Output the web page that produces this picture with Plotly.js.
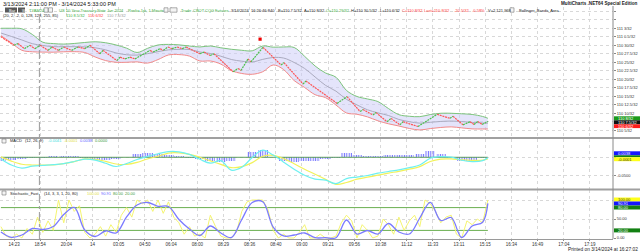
<!DOCTYPE html>
<html><head><meta charset="utf-8">
<script src="https://cdn.plot.ly/plotly-3.0.1.min.js"></script>
<style>html,body{margin:0;padding:0;background:#fff;}#chart{width:640px;height:252px;}</style>
</head><body><div id="chart"></div>
<script>
// ---------- DATA ----------
const tickBars = [5,15,25,35,45,55,65,75,85,95,105,115,125,135,145,155,165,175,185,195,205,215,225];
const tickLabels = ["14:23","18:54","20:04","14","03:05","04:50","06:04","08:00","08:29","08:36","08:40","09:00","09:21","09:56","10:38","11:12","11:33","13:11","15:15","16:34","16:49","17:04","17:19"];

// price in 32nds above 110
const priceTickVals = [5,7.5,10,12.5,15,17.5,20,22.5,25,27.5,30,32.5,35,37.5,40];
const priceTickText = ["110 5/32","","110 10/32","110 12.5/32","110 15/32","110 17.5/32","110 20/32","110 22.5/32","110 25/32","110 27.5/32","110 30/32","111 0.5/32","111 3/32","",""];

// renko turning points (bar, price)
const renkoBars = [0,5,6.5,9,11,13,15,18,19.5,22,24,27,29.4,32,34,37.8,39,44.3,45.5,47.4,49.3,51.2,57,58.1,60.8,62,63.8,65.3,67.3,69.2,70.7,76,77.6,79.9,81.4,88.7,90.6,91.7,94.4,95.5,100.1,107,108.1,115.4,116.5,128.4,132.2,137.2,138.3,142.1,143.3,147.5,149,152.4,153.6,159.3,166.6,171.5,172.7,176.5,179.2,180.7,182.2,183.8,186];
const renkoPrices = [32.5,30,30.5,29,30,29,30,28.5,29.5,28.5,29.5,28.5,29.5,29,30,27.5,28.5,25.5,26.5,26,26.5,26,28.5,28,29,28.5,29.5,29,29.5,29,29.5,27.5,28,27,27.5,22.2,23.2,22.6,26,25.1,29.4,24.2,24.9,18.6,19.5,12.9,14.9,10.5,11.1,9.5,10.2,7.5,8.5,6.6,7.5,6.1,9.7,8.5,9.1,6.6,7.5,6.7,7.6,6.7,7.6];
const signalBars = [99];
const signalPrices = [31.8];

const sampleBars = [0,4,8,12,16,20,24,28,32,36,40,44,48,52,56,60,64,68,72,76,80,84,88,92,96,100,104,108,112,116,120,124,128,132,136,140,144,148,152,156,160,164,168,172,176,180,184,186];
const bbUpper = [35.0,35.0,34.85,33.18,30.91,30.5,30.35,30.53,30.82,31.03,30.74,30.09,29.15,27.88,29.09,30.09,30.26,30.12,29.79,29.5,29.79,29.26,28.82,28.53,28.38,29.79,29.44,29.5,29.35,26.76,23.91,21.85,20.59,16.71,14.94,14.21,13.44,11.41,9.59,9.12,9.0,9.62,10.0,10.0,9.85,9.65,9.06,8.53];
const bbLower = [32.85,30.71,28.53,28.09,28.0,27.97,28.09,28.12,27.88,26.56,25.5,25.0,25.0,25.12,24.76,25.79,27.15,27.26,26.82,25.38,25.38,24.47,22.56,21.71,21.47,22.21,24.21,22.85,19.62,17.59,15.47,14.59,12.41,10.09,9.71,8.94,7.79,6.91,6.26,5.53,5.09,5.5,5.82,6.0,5.71,5.41,5.38,5.38];
const bbMid = [33.6,32.6,31.56,30.47,29.94,29.59,29.59,29.59,29.53,29.26,28.65,27.74,27.21,27.12,27.53,28.12,28.65,28.79,28.76,28.03,27.59,26.79,25.82,25.32,25.09,25.85,26.41,26.24,24.94,23.18,20.68,18.21,16.5,14.09,12.47,11.03,10.12,9.35,8.18,7.53,7.09,7.35,7.59,7.71,7.56,7.32,7.15,7.06];

const macdLine = [-0.0043,-0.0206,-0.0289,-0.0238,-0.0217,-0.0198,-0.0168,-0.0112,-0.0048,-0.0075,-0.016,-0.0246,-0.0166,-0.0059,0.0024,0.0094,0.0152,0.0147,0.0078,-0.0053,-0.0158,-0.0091,-0.0345,-0.0267,-0.0005,0.019,0.0059,-0.0131,-0.0318,-0.0479,-0.0586,-0.0612,-0.0706,-0.057,-0.0529,-0.0487,-0.0425,-0.038,-0.0337,-0.0278,-0.0206,-0.0027,0.0016,0.0003,-0.008,-0.0115,-0.0091,-0.0013];
const macdAvg = [0.0011,-0.0102,-0.0187,-0.0206,-0.0206,-0.0201,-0.0171,-0.0115,-0.0043,-0.0056,-0.011,-0.0179,-0.019,-0.0136,-0.0045,0.0027,0.0112,0.0118,0.0078,0,-0.0096,-0.019,-0.0278,-0.0249,-0.0142,0.0029,0.0053,-0.0035,-0.0174,-0.0321,-0.0452,-0.0591,-0.0722,-0.0674,-0.0586,-0.0532,-0.0479,-0.0422,-0.0377,-0.0318,-0.0251,-0.0112,-0.0048,-0.0043,-0.0067,-0.0083,-0.0078,-0.0045];
const macdDiff = [-0.0086,-0.0072,-0.0045,-0.0032,-0.0013,0.0029,0.0035,0.0027,-0.0013,-0.0072,-0.0072,-0.004,0.0021,0.0075,0.011,0.0088,0.0062,0.0027,-0.0008,-0.0059,-0.0086,-0.0126,-0.0099,0.0008,0.0142,0.0182,0.0021,-0.0086,-0.0118,-0.0112,-0.0086,-0.0053,-0.0019,0.0115,0.0062,0.0035,0.0035,0.0048,0.0056,0.0062,0.0088,0.0155,0.0088,-0.0032,-0.0099,-0.0086,-0.0019,0.0021];

const stochD = [15.8,1.8,7.9,25,22.4,30.3,61.8,80.3,21.1,3.9,18.4,13.2,55.3,86.8,93.4,83.4,82.9,48.7,23.7,6.6,31.6,13.2,1.3,48.7,93.4,95.5,28.9,5.3,7.9,13.2,0.8,0.8,0.8,47.4,10.5,19.7,10.5,38.2,15.8,10.5,52.6,93.9,46.1,53.9,1.3,31.6,41.3,90.9];
const stochK = [30,5,0,10,0,25,10,55,15,45,20,100,40,100,70,85,15,0,10,30,5,35,15,60,80,55,100,90,100,70,100,65,95,55,40,10,30,5,10,0,60,30,5,0,0,15,70,95,100,100,100,75,20,0,10,0,0,15,35,0,0,10,0,0,5,40,60,45,0,35,20,0,5,50,35,10,55,20,45,60,30,100,90,70,40,55,60,10,0,45,35,50,40,100];
const kBars = stochK.map((_, i) => i * 2);

// ---------- LAYOUT HELPERS ----------
const PLOT_H = 239;
const py = y => (PLOT_H - y) / PLOT_H;
const px = x => x / 640;
const FONT = 'Liberation Sans, Arial, sans-serif';
const GREEN = '#3cb043', RED = '#ff3b3b';

// renko legs split by direction
const upX = [], upY = [], dnX = [], dnY = [];
for (let i = 0; i < renkoBars.length - 1; i++) {
  const up = renkoPrices[i + 1] > renkoPrices[i];
  const X = up ? upX : dnX, Y = up ? upY : dnY;
  X.push(renkoBars[i], renkoBars[i + 1], null);
  Y.push(renkoPrices[i], renkoPrices[i + 1], null);
}
const lastBar = renkoBars[renkoBars.length - 1];

const traces = [
  {x: sampleBars, y: bbUpper, mode: 'lines', line: {color: '#7cc47c', width: 1, shape: 'spline'}, hoverinfo: 'skip'},
  {x: sampleBars, y: bbLower, mode: 'lines', line: {color: '#f28a8a', width: 1, shape: 'spline'}, fill: 'tonexty', fillcolor: 'rgba(205,205,248,0.55)', hoverinfo: 'skip'},
  {x: sampleBars, y: bbMid, mode: 'lines', line: {color: '#ababbf', width: 1, shape: 'spline'}, hoverinfo: 'skip'},
  {x: dnX, y: dnY, mode: 'lines', line: {color: '#ff5555', width: 1.2, dash: '2px,0.8px'}, connectgaps: false},
  {x: upX, y: upY, mode: 'lines', line: {color: '#4cc04c', width: 1.2, dash: '2px,0.8px'}, connectgaps: false},
  {x: signalBars, y: signalPrices, mode: 'markers', marker: {color: '#ee0000', size: 3.2, symbol: 'square'}},
  // MACD
  {x: sampleBars, y: macdDiff, type: 'bar', yaxis: 'y2', width: 3.9,
   marker: {color: '#7070ff', line: {width: 0}, pattern: {shape: '|', size: 2.4, solidity: 0.45}}},
  {x: [0, lastBar], y: [0, 0], yaxis: 'y2', mode: 'lines', line: {color: '#5f9f5f', width: 1}},
  {x: sampleBars, y: macdAvg, yaxis: 'y2', mode: 'lines', line: {color: '#f2f25a', width: 1.2, shape: 'spline'}},
  {x: sampleBars, y: macdLine, yaxis: 'y2', mode: 'lines', line: {color: '#6ef0f0', width: 1.2, shape: 'spline'}},
  // Stochastic
  {x: [0, lastBar], y: [80, 80], yaxis: 'y3', mode: 'lines', line: {color: '#6aaf50', width: 1}},
  {x: [0, lastBar], y: [20, 20], yaxis: 'y3', mode: 'lines', line: {color: '#6aaf50', width: 1}},
  {x: kBars, y: stochK, yaxis: 'y3', mode: 'lines', line: {color: '#f5f570', width: 1}},
  {x: sampleBars, y: stochD, yaxis: 'y3', mode: 'lines', line: {color: '#7b7bff', width: 1.3, shape: 'spline'}}
];

const axisCommon = {
  side: 'right', anchor: 'x', tickfont: {size: 4, color: '#333', family: FONT},
  ticks: 'outside', ticklen: 2, tickcolor: '#888', showline: false, zeroline: false,
  gridcolor: '#d8d8d8', griddash: 'dot', gridwidth: 1, fixedrange: true
};

const shapes = [
  {type: 'line', xref: 'paper', yref: 'paper', x0: 0, x1: 1, y0: py(138), y1: py(138), line: {color: '#a0a0a0', width: 2}},
  {type: 'line', xref: 'paper', yref: 'paper', x0: 0, x1: 1, y0: py(189.5), y1: py(189.5), line: {color: '#a0a0a0', width: 2}},
  {type: 'line', xref: 'paper', yref: 'paper', x0: px(613), x1: px(613), y0: 0, y1: py(6), line: {color: '#8a8a8a', width: 1}},
  {type: 'line', xref: 'x', yref: 'paper', x0: 14.7, x1: 14.7, y0: 0, y1: py(17), line: {color: '#9a9a9a', width: 1, dash: 'dashdot'}}
];
const annotations = [];
function txt(t, x, y, color, size, extra) {
  annotations.push(Object.assign({text: t, xref: 'paper', yref: 'paper', x: px(x), y: py(y), xanchor: 'left', yanchor: 'middle',
    showarrow: false, font: {size: size || 4, color: color || '#222', family: FONT}}, extra || {}));
}
function box(x0, x1, y0, y1, fill, t, tc) {
  shapes.push({type: 'rect', xref: 'paper', yref: 'paper', x0: px(x0), x1: px(x1), y0: py(y1), y1: py(y0), fillcolor: fill, line: {width: 0}});
  if (t) txt(t, x0 + 1.5, (y0 + y1) / 2, tc || '#fff', 4);
}
function icon(x0, y0, w, h, fill) {
  shapes.push({type: 'rect', xref: 'paper', yref: 'paper', x0: px(x0), x1: px(x0 + w), y0: py(y0 + h), y1: py(y0), fillcolor: fill || '#f4f4f4', line: {color: '#777', width: 0.6}});
}

const TB = 4;
// header
txt('3/13/2024 2:11:00 PM - 3/14/2024 5:33:00 PM', 0.5, 3.6, '#111', 5.5);
txt('<b>MultiCharts .NET64 Special Edition</b>', 639.5, 3.6, '#222', 4.6, {xanchor: 'right'});
// toolbar
box(5, 17, 7.5, 12.5, '#5a5a5a', 'Bar');
box(18, 25, 7.5, 12.5, '#5a5a5a', 'Wr');
txt('TYAM24', 27, 10, GREEN, TB);
icon(44, 7.8, 4, 4.4); icon(48.5, 7.8, 4, 4.4);
txt('US 10-Year Treasury Note Jun 2024', 57, 10, GREEN, TB);
txt('Renko 1pt, 1 Minute', 126, 10, GREEN, TB);
icon(164, 7.8, 4, 4.4); icon(170, 7.8, 7, 4.4);
txt('Trade', 179, 10, GREEN, TB);
txt('CBOT', 191, 10, GREEN, TB);
txt('CQG', 203, 10, GREEN, TB);
txt('Futures', 213, 10, GREEN, TB);
txt('3/14/2024', 229, 10, '#222', TB);
txt('16:26:46:840', 249, 10, '#222', TB);
txt('B=110 7.5/32', 276, 10, '#222', TB);
txt('A=110 8/32', 302, 10, '#222', TB);
txt('O=110 29/32', 324, 10, GREEN, TB);
txt('H=110 30.5/32', 349, 10, '#222', TB);
txt('L=110 6/32', 378, 10, '#222', TB);
txt('C=110 8/32', 400, 10, RED, TB);
txt('Last=110 8/32', 422, 10, RED, TB);
txt('-20.5/32', 452, 10, RED, TB);
txt('-0.58%', 470, 10, RED, TB);
txt('V=2,121,968', 486, 10, '#222', TB);
icon(510, 7.8, 4, 4.4);
txt('Bollinger_Bands_Area', 517, 10, '#222', TB);
txt('(20, 2, -2, 0, 128, 128, 255, 85)', 1, 16, '#222', TB);
txt('110 8.5/32', 64, 16, GREEN, TB);
txt('110 6/32', 86, 16, RED, TB);
txt('110 7.5/32', 105, 16, '#999', TB);

// MACD header
icon(2, 139, 4, 4);
txt('MACD', 8, 141, '#222', 4);
txt('(12, 26, 9)', 23, 141, '#222', 4);
txt('-0.0041', 46, 141, '#3fe0e0', 4);
txt('-0.0001', 62, 141, '#e0e040', 4);
txt('0.0038', 78, 141, '#6060ff', 4);
txt('0.0000', 93, 141, '#3a9a3a', 4);
// Stoch header
icon(2, 191, 4, 4);
txt('Stochastic_Fast', 8, 193, '#222', 4);
txt('(14, 3, 3, 1, 20, 80)', 42, 193, '#222', 4);
txt('100.00', 85, 193, '#e0e040', 4);
txt('90.91', 99, 193, '#6060ff', 4);
txt('80.00', 111, 193, '#3a9a3a', 4);
txt('20.00', 123, 193, '#3a9a3a', 4);

// right-side value boxes
box(614, 640, 116.3, 120.3, '#1a9a1a', '110 8/32');
box(614, 640, 120.3, 124.3, '#111', '110 7.5/32');
box(614, 640, 124.3, 128.1, '#ff1a1a', '110 6/32');
box(614, 640, 151.3, 155.3, '#1515ff', '0.0038');
box(614, 640, 155.3, 157.2, '#128012');
box(614, 640, 157.2, 161.2, '#ffff1a', '-0.0001', '#333');
box(614, 640, 197.5, 201.5, '#ffff1a', '100.00', '#333');
box(614, 640, 201.5, 205.5, '#1515ff', '90.91');
box(614, 640, 205.5, 209.5, '#128012', '80.00');
box(614, 640, 228.4, 232.4, '#128012', '20.00');

txt('Printed on 3/14/2024 at 16:27:02', 639.5, 249.3, '#222', 4.8, {xanchor: 'right'});

const layout = {
  width: 640, height: 252, margin: {l: 0, r: 0, t: 0, b: 13},
  paper_bgcolor: '#fff', plot_bgcolor: '#fff', showlegend: false, bargap: 0,
  font: {family: FONT, size: 5, color: '#333'},
  xaxis: {domain: [0, 613 / 640], range: [-0.348, 233.8], anchor: 'y3', tickvals: tickBars, ticktext: tickLabels,
    tickfont: {size: 4.5, color: '#333', family: FONT}, ticks: 'outside', ticklen: 1, tickcolor: '#888',
    showgrid: true, gridcolor: '#d8d8d8', griddash: 'dot', showline: true, linecolor: '#9a9a9a', linewidth: 1, zeroline: false, fixedrange: true},
  yaxis: Object.assign({}, axisCommon, {domain: [py(137), py(7)], range: [3.02, 41.26], tickvals: priceTickVals, ticktext: priceTickText}),
  yaxis2: Object.assign({}, axisCommon, {domain: [py(189), py(139)], range: [-0.0848, 0.0489], tickvals: [0, -0.05], ticktext: ['', '-0.0500']}),
  yaxis3: Object.assign({}, axisCommon, {domain: [0, py(190)], range: [-2.63, 126.3], tickvals: [0, 50, 100], ticktext: ['0.00', '50.00', '']}),
  shapes: shapes, annotations: annotations
};

Plotly.newPlot('chart', traces, layout, {staticPlot: true, displayModeBar: false});
</script>
</body></html>
